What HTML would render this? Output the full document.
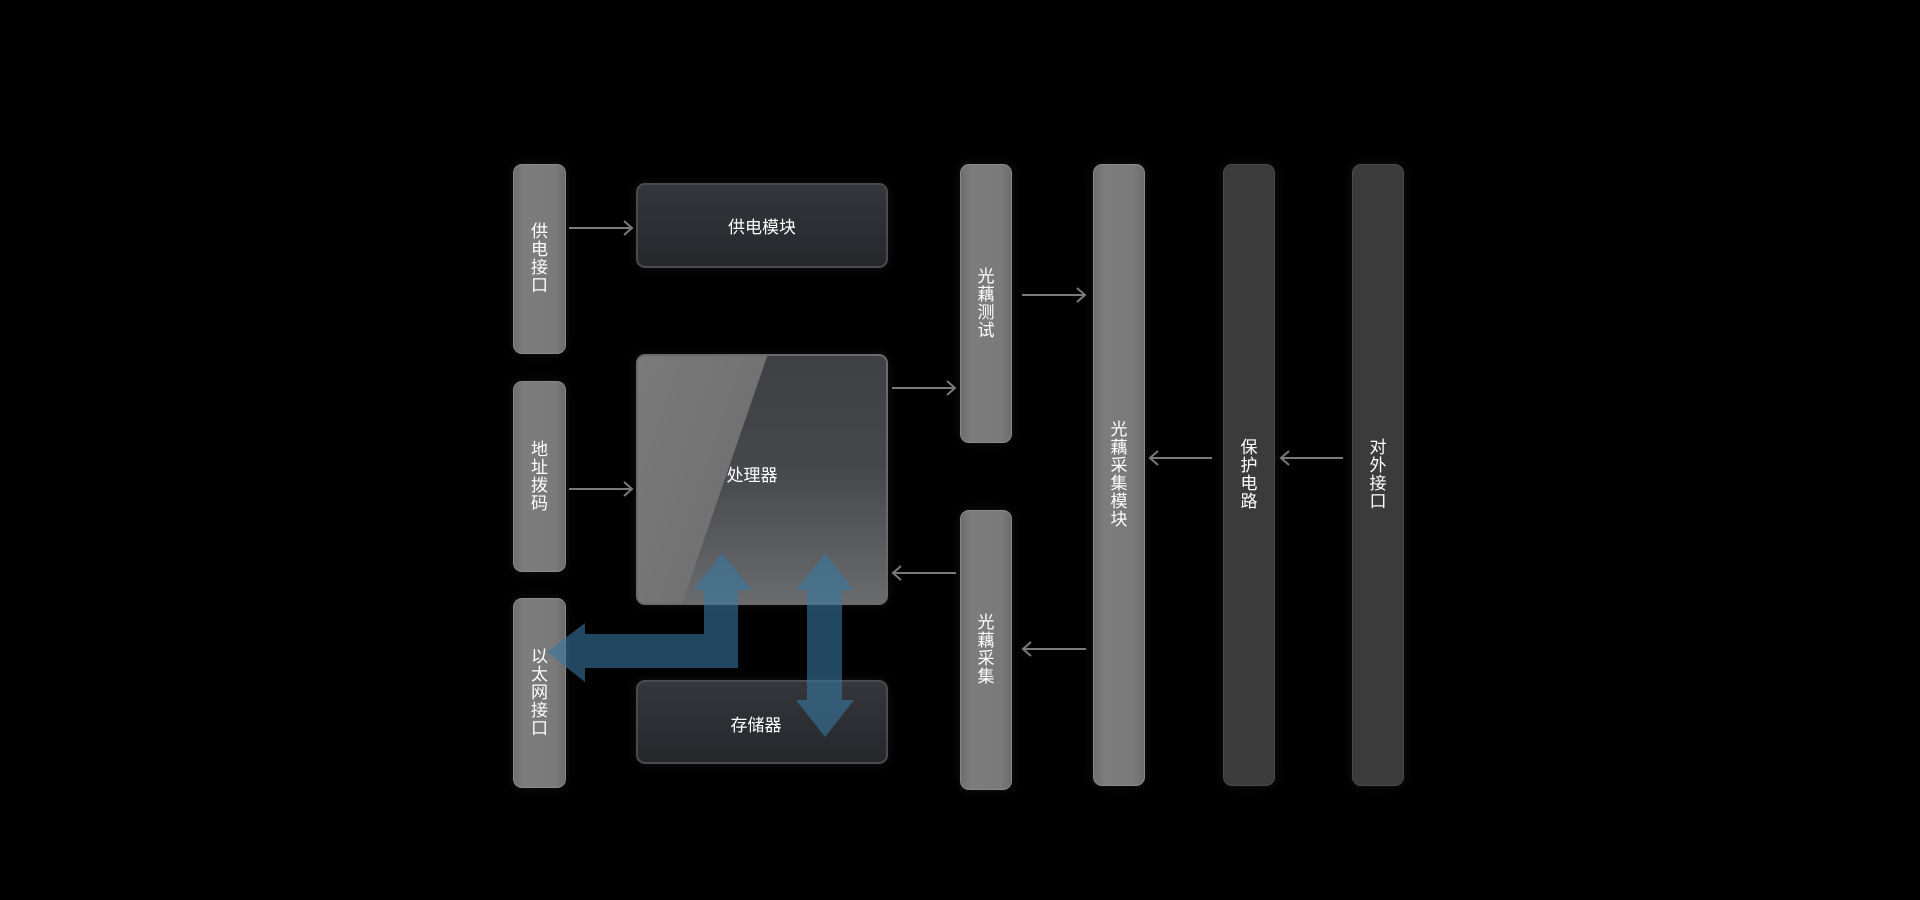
<!DOCTYPE html>
<html><head><meta charset="utf-8"><style>
body{margin:0;width:1920px;height:900px;background:#000;overflow:hidden;position:relative;font-family:"Liberation Sans","Noto Sans CJK SC",sans-serif;}
.b{position:absolute;border-radius:9px;box-sizing:border-box;border:1px solid #8a8a8a;display:flex;align-items:center;justify-content:center;color:#fff;font-size:17px;line-height:18px;text-align:center;box-shadow:0 0 10px rgba(255,255,255,0.08);}
.l{background:linear-gradient(90deg,#6e6e6e,#7c7c7c 20%,#7a7a7a 80%,#6c6c6c);}
.d{background:#3b3b3b;border-color:#4a4a4a;}
.m{background:linear-gradient(180deg,#34363b,#25272b);border:2px solid #4a4b4e;font-size:17px;}
svg{position:absolute;left:0;top:0}
</style></head><body>
<div class="b l" style="left:513px;top:164px;width:53px;height:190px">供<br>电<br>接<br>口</div>
<div class="b l" style="left:513px;top:381px;width:53px;height:191px">地<br>址<br>拨<br>码</div>
<div class="b l" style="left:513px;top:598px;width:53px;height:190px">以<br>太<br>网<br>接<br>口</div>
<div class="b m" style="left:636px;top:183px;width:252px;height:85px;padding-top:4px">供电模块</div>
<div class="b m" style="left:636px;top:680px;width:252px;height:84px;padding-top:8px;padding-right:12px">存储器</div>
<div class="b" style="left:636px;top:354px;width:252px;height:251px;border:2px solid #6a6a6a;background:linear-gradient(109deg,#7a7a7a 0%,#727272 38.7%,transparent 38.9%),linear-gradient(180deg,#3e4044 0%,#45474b 45%,#6a6b6d 100%);font-size:17px;padding-right:20px;padding-bottom:8px">处理器</div>
<div class="b l" style="left:960px;top:164px;width:52px;height:279px">光<br>藕<br>测<br>试</div>
<div class="b l" style="left:960px;top:510px;width:52px;height:280px">光<br>藕<br>采<br>集</div>
<div class="b l" style="left:1093px;top:164px;width:52px;height:622px">光<br>藕<br>采<br>集<br>模<br>块</div>
<div class="b d" style="left:1223px;top:164px;width:52px;height:622px">保<br>护<br>电<br>路</div>
<div class="b d" style="left:1352px;top:164px;width:52px;height:622px">对<br>外<br>接<br>口</div>
<svg width="1920" height="900">
<g stroke="#7a7a7a" stroke-width="2" fill="none">
<path d="M569 228H632M624 221L632 228L624 235"/>
<path d="M569 489H632M624 482L632 489L624 496"/>
<path d="M892 388H955M947 381L955 388L947 395"/>
<path d="M1022 295H1085M1077 288L1085 295L1077 302"/>
<path d="M956 573H893M901 566L893 573L901 580"/>
<path d="M1086 649H1023M1031 642L1023 649L1031 656"/>
<path d="M1212 458H1150M1158 451L1150 458L1158 465"/>
<path d="M1343 458H1281M1289 451L1281 458L1289 465"/>
</g>
<g fill="rgba(55,120,160,0.6)">
<path d="M547 652L585 623V634H704V590H693L722 553L752 590H738V668H585V682Z"/>
<path d="M825 553L854 590H842V700H854L825 737L796 700H807V590H796Z"/>
</g>
</svg>
</body></html>
